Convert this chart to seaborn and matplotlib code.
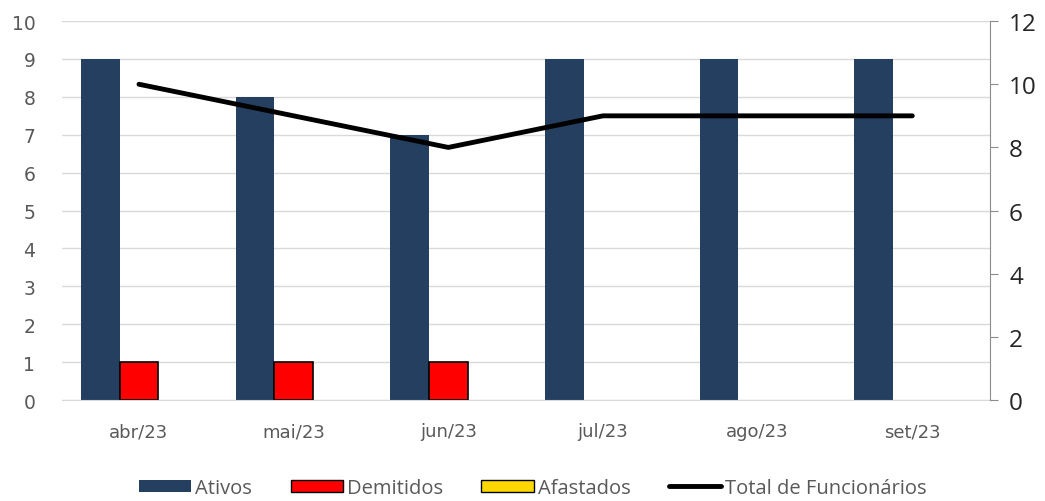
import pandas as pd
import numpy as np
import matplotlib.pyplot as plt
import seaborn as sns
from matplotlib.patches import Patch
from matplotlib.lines import Line2D

# 数据
meses = ["abr/23", "mai/23", "jun/23", "jul/23", "ago/23", "set/23"]
ativos = [9, 8, 7, 9, 9, 9]
demitidos = [1, 1, 1, 0, 0, 0]
afastados = [0, 0, 0, 0, 0, 0]
total_funcionarios = [10, 9, 8, 9, 9, 9]

series = ["Ativos", "Demitidos", "Afastados"]
cores = {"Ativos": "#243F60", "Demitidos": "#FF0000", "Afastados": "#FFD700"}

df = pd.DataFrame({"mes": meses, "Ativos": ativos, "Demitidos": demitidos, "Afastados": afastados})
df_long = df.melt(id_vars="mes", value_vars=series, var_name="serie", value_name="valor")

sns.set_style("white")
plt.rcParams['font.family'] = ['DejaVu Sans']

fig, ax = plt.subplots(figsize=(10.45, 5.02), dpi=100)
fig.subplots_adjust(left=0.059, right=0.947, top=0.956, bottom=0.201)

sns.barplot(data=df_long, x="mes", y="valor", hue="serie", hue_order=series,
            order=meses, palette=cores, width=0.75, gap=0, ax=ax, legend=False,
            saturation=1, errorbar=None)

# 边框：Demitidos / Afastados 黑边
for bar_container, nome in zip(ax.containers, series):
    for p in bar_container:
        if nome == "Ativos":
            p.set_edgecolor("none")
        else:
            p.set_edgecolor("black")
            p.set_linewidth(1.2)
            if p.get_height() == 0:
                p.set_visible(False)

ax.set_ylim(0, 10)
ax.set_xlim(-0.5, len(meses) - 0.5)
ax.set_yticks(range(0, 11))
ax.yaxis.grid(True, color="#D9D9D9", linewidth=1)
ax.set_axisbelow(True)
ax.set_xlabel("")
ax.set_ylabel("")
for s in ["top", "right", "left"]:
    ax.spines[s].set_visible(False)
ax.spines["bottom"].set_color("#D9D9D9")
ax.tick_params(axis="y", length=0, labelsize=13.5, labelcolor="#595959", pad=19)
ax.tick_params(axis="x", length=0, labelsize=13, labelcolor="#595959", pad=16)

# 右轴：总数
ax2 = ax.twinx()
sns.lineplot(x=np.arange(len(meses)), y=total_funcionarios, color="black",
             linewidth=3.5, ax=ax2, legend=False)
ax2.set_ylim(0, 12)
ax2.set_yticks(range(0, 13, 2))
for s in ["top", "left", "bottom"]:
    ax2.spines[s].set_visible(False)
ax2.spines["right"].set_color("#8C8C8C")
ax2.tick_params(axis="y", length=6, color="#8C8C8C", labelsize=17.5, labelcolor="#262626", pad=8)
for t in ax2.get_yticklabels():
    t.set_family(["Open Sans", "DejaVu Sans"])
ax2.set_xlim(-0.5, len(meses) - 0.5)

# 图例
handles = [Patch(facecolor=cores["Ativos"], edgecolor="none"),
           Patch(facecolor=cores["Demitidos"], edgecolor="black"),
           Patch(facecolor=cores["Afastados"], edgecolor="black"),
           Line2D([0], [0], color="black", linewidth=3.5)]
labels = ["Ativos", "Demitidos", "Afastados", "Total de Funcionários"]
fig.legend(handles, labels, loc="lower center", ncol=4, frameon=False,
           bbox_to_anchor=(0.51, -0.03), handlelength=2.6,
           handleheight=0.55, handletextpad=0.2, columnspacing=1.9,
           labelcolor="#595959", prop={"family": ["Open Sans", "DejaVu Sans"], "size": 14.5})

plt.savefig("out.png", dpi=100)
